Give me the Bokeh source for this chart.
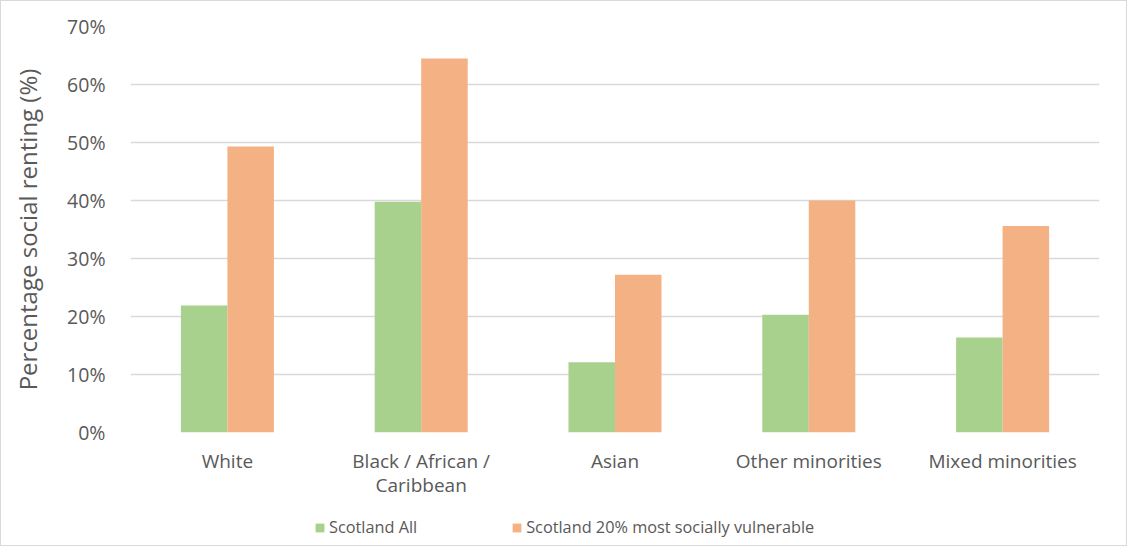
from bokeh.plotting import figure
from bokeh.layouts import column
from bokeh.models import (ColumnDataSource, FactorRange, Range1d, FixedTicker,
                          NumeralTickFormatter, Legend, LegendItem)
from bokeh.transform import dodge
from bokeh.embed import file_html
from bokeh.resources import INLINE

categories = ["White", "Black / African /\nCaribbean", "Asian", "Other minorities", "Mixed minorities"]
scotland_all = [0.219, 0.398, 0.121, 0.203, 0.164]
scotland_vuln = [0.493, 0.645, 0.272, 0.400, 0.356]
series_names = ["Scotland All", "Scotland 20% most socially vulnerable"]
y_ticks = [0.0, 0.1, 0.2, 0.3, 0.4, 0.5, 0.6, 0.7]

FONT = "Open Sans"
TXT = "#595959"
GRID = "#d9d9d9"
GREEN = "#A9D18E"
ORANGE = "#F4B183"

src = ColumnDataSource(dict(cat=categories, a=scotland_all, b=scotland_vuln))

p = figure(x_range=FactorRange(*categories), y_range=Range1d(0, 0.7),
           frame_width=969, frame_height=406, output_backend="svg", toolbar_location=None,
           min_border_left=129, min_border_right=26, min_border_top=25,
           min_border_bottom=72)
p.outline_line_color = None

p.vbar(x=dodge("cat", -0.12, range=p.x_range), top="a", width=0.24,
       source=src, fill_color=GREEN, line_color=None)
p.vbar(x=dodge("cat", 0.12, range=p.x_range), top="b", width=0.24,
       source=src, fill_color=ORANGE, line_color=None)

p.xgrid.grid_line_color = None
p.ygrid.grid_line_color = GRID
p.ygrid.grid_line_width = 1.5
p.ygrid.ticker = FixedTicker(ticks=y_ticks)

p.yaxis.ticker = FixedTicker(ticks=y_ticks)
p.yaxis.formatter = NumeralTickFormatter(format="0%")
p.yaxis.axis_line_color = None
p.yaxis.major_tick_line_color = None
p.yaxis.minor_tick_line_color = None
p.yaxis.major_label_text_font = FONT
p.yaxis.major_label_text_font_size = "19.5px"
p.yaxis.major_label_text_color = TXT
p.yaxis.major_label_standoff = 19
p.yaxis.axis_label = "Percentage social renting (%)"
p.yaxis.axis_label_text_font = FONT
p.yaxis.axis_label_text_font_size = "24px"
p.yaxis.axis_label_text_font_style = "normal"
p.yaxis.axis_label_text_color = TXT
p.yaxis.axis_label_standoff = 20

p.xaxis.axis_line_color = None
p.xaxis.major_tick_line_color = None
p.xaxis.minor_tick_line_color = None
p.xaxis.major_label_text_font = FONT
p.xaxis.major_label_text_font_size = "19px"
p.xaxis.major_label_text_color = TXT
p.xaxis.major_label_text_line_height = 0.95
p.xaxis.major_label_standoff = 9

# legend strip below the chart (dummy swatch renderers kept outside the visible range)
lg = figure(width=1125, height=41, output_backend="svg", toolbar_location=None,
            x_range=Range1d(0, 1), y_range=Range1d(0, 1),
            min_border_left=0, min_border_right=0, min_border_top=0,
            min_border_bottom=0)
lg.axis.visible = False
lg.grid.visible = False
lg.outline_line_color = None
dummy = ColumnDataSource(dict(x=[-5], top=[-5]))
g1 = lg.vbar(x="x", top="top", width=0.1, source=dummy, fill_color=GREEN, line_color=None)
g2 = lg.vbar(x="x", top="top", width=0.1, source=dummy, fill_color=ORANGE, line_color=None)
legend = Legend(items=[LegendItem(label=series_names[0], renderers=[g1]),
                       LegendItem(label=series_names[1], renderers=[g2])],
                orientation="horizontal", location=(184, 7),
                border_line_color=None, background_fill_alpha=0,
                padding=0, margin=0, spacing=94,
                glyph_width=11, glyph_height=11, label_standoff=4,
                label_text_font=FONT, label_text_font_size="16.3px",
                label_text_color=TXT)
lg.add_layout(legend)

layout = column(p, lg, spacing=0)
layout.styles = {"border": "1px solid #d9d9d9"}

open("out.html", "w").write(file_html(layout, INLINE))
